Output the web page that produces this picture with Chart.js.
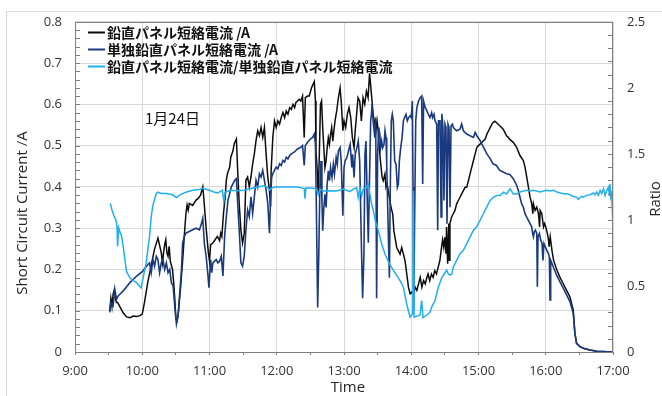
<!DOCTYPE html>
<html>
<head>
<meta charset="utf-8">
<script src="https://cdn.jsdelivr.net/npm/chart.js@4"></script>
<style>
  html, body { margin: 0; padding: 0; background: #fff; }
  canvas { display: block; }
</style>
</head>
<body>
<canvas id="sc_chart"></canvas>
<script>
// tick labels
const hourLabels = ['9:00', '10:00', '11:00', '12:00', '13:00', '14:00', '15:00', '16:00', '17:00'];
const currentTicks = [0, 0.1, 0.2, 0.3, 0.4, 0.5, 0.6, 0.7, 0.8];
const ratioTicks = [0, 0.5, 1, 1.5, 2, 2.5];

// series names
const seriesNames = ['鉛直パネル短絡電流 /A', '単独鉛直パネル短絡電流 /A', '鉛直パネル短絡電流/単独鉛直パネル短絡電流'];
const dateLabel = '1月24日';

// time of day in minutes after midnight
const blackT = [571, 572, 573, 574, 575, 576, 577, 578, 580, 583, 586, 589, 592, 595, 598, 600, 602, 605, 608, 611,
  614, 615, 617, 618, 619, 620, 621, 622, 623, 624, 625, 627, 628, 629, 630, 631, 632, 634, 636, 638,
  639, 640, 641, 642, 645, 648, 650, 652, 654, 655, 657, 659, 660, 661, 663, 665, 667, 669, 670, 671,
  672.5, 674, 675, 676, 678, 679, 681, 682, 684, 685, 686.5, 688, 689.5, 691, 692.5, 694, 695.5, 697, 698.5, 700,
  701.5, 703, 704.5, 706, 707.5, 709, 710.5, 712, 713.5, 714.5, 715, 716.5, 718, 719.5, 721, 722.5, 724, 725.5, 727, 728.5,
  730, 731.5, 733, 734.5, 736, 737, 738.5, 740, 741.5, 743, 744.5, 745.5, 747.5, 749, 751, 753.5, 754.5, 755, 756, 757,
  758, 759, 760, 761, 762, 763, 764, 765, 766, 767, 768, 769, 770, 771, 772, 773.5, 775, 776.5, 777.5, 779,
  780, 781.5, 783, 784.5, 786, 787.5, 789, 790, 791.5, 792.5, 794, 795.5, 797, 798.5, 800, 801.5, 802.8, 804, 805, 806,
  807.5, 808.5, 809.5, 810.5, 811.5, 812.5, 814, 815, 816.5, 817.5, 818.5, 820, 821, 822, 823.5, 824.5, 826, 827, 828.5, 830,
  831.5, 833, 834.5, 836, 837.5, 839, 840.5, 842, 843.5, 845, 846.5, 848, 849.5, 851, 852.5, 854, 855, 856.5, 858, 859.5,
  861, 862.5, 864, 865.5, 867, 868, 869, 870, 871, 871.5, 872.5, 873.5, 874, 874.5, 876, 877.5, 879, 880.5, 882, 883.5,
  885, 886.5, 888, 889.5, 891, 892.5, 894, 895.5, 897, 898.5, 900, 901.5, 903, 904.5, 906, 907.5, 909, 910.5, 912, 913,
  914.5, 916, 917.5, 919, 920.5, 922, 923.5, 925, 926.5, 928, 931, 934, 937, 940, 941.5, 943, 944.5, 946, 947.5, 948.5,
  949, 950.5, 952, 953.5, 954.5, 955, 956.5, 958, 959, 960, 961.5, 962.5, 963, 964, 965.5, 967, 970, 972.5, 975.5, 978.5,
  981.5, 984.5, 986, 987.5, 990.5, 993.5, 999.5, 1005.5, 1011.5, 1019];
const blackV = [0.10, 0.13, 0.11, 0.14, 0.15, 0.13, 0.12, 0.12, 0.11, 0.095, 0.085, 0.083, 0.087, 0.086, 0.088, 0.092, 0.12, 0.17, 0.21, 0.25,
  0.276, 0.264, 0.24, 0.216, 0.24, 0.26, 0.272, 0.24, 0.232, 0.256, 0.22, 0.2, 0.17, 0.13, 0.08, 0.075, 0.09, 0.15, 0.22, 0.3,
  0.336, 0.356, 0.344, 0.36, 0.355, 0.368, 0.372, 0.38, 0.40, 0.37, 0.30, 0.24, 0.22, 0.26, 0.264, 0.272, 0.28, 0.27, 0.288, 0.28,
  0.336, 0.376, 0.416, 0.432, 0.448, 0.472, 0.488, 0.504, 0.516, 0.448, 0.36, 0.296, 0.264, 0.288, 0.416, 0.424, 0.40, 0.424, 0.456, 0.48,
  0.512, 0.536, 0.524, 0.544, 0.52, 0.544, 0.48, 0.424, 0.392, 0.352, 0.44, 0.52, 0.56, 0.544, 0.56, 0.552, 0.568, 0.58, 0.568, 0.584,
  0.576, 0.592, 0.588, 0.6, 0.592, 0.604, 0.608, 0.612, 0.608, 0.62, 0.52, 0.616, 0.62, 0.62, 0.64, 0.655, 0.608, 0.487, 0.447, 0.382,
  0.479, 0.6, 0.608, 0.544, 0.495, 0.447, 0.463, 0.495, 0.519, 0.503, 0.527, 0.544, 0.511, 0.536, 0.56, 0.584, 0.616, 0.64, 0.608, 0.536,
  0.56, 0.544, 0.576, 0.592, 0.568, 0.519, 0.495, 0.536, 0.584, 0.616, 0.608, 0.56, 0.616, 0.6, 0.632, 0.616, 0.675, 0.64, 0.608, 0.576,
  0.552, 0.536, 0.56, 0.536, 0.495, 0.463, 0.423, 0.415, 0.431, 0.399, 0.407, 0.382, 0.366, 0.35, 0.334, 0.294, 0.27, 0.253, 0.245, 0.237,
  0.253, 0.237, 0.221, 0.189, 0.157, 0.141, 0.145, 0.141, 0.157, 0.149, 0.165, 0.181, 0.157, 0.173, 0.165, 0.181, 0.189, 0.173, 0.189, 0.181,
  0.197, 0.189, 0.205, 0.221, 0.253, 0.272, 0.254, 0.278, 0.238, 0.303, 0.214, 0.311, 0.222, 0.311, 0.327, 0.335, 0.343, 0.359, 0.367, 0.375,
  0.383, 0.391, 0.399, 0.399, 0.415, 0.432, 0.448, 0.464, 0.48, 0.496, 0.5, 0.504, 0.508, 0.512, 0.516, 0.528, 0.536, 0.544, 0.552, 0.556,
  0.559, 0.556, 0.552, 0.548, 0.544, 0.54, 0.532, 0.524, 0.52, 0.515, 0.508, 0.496, 0.476, 0.464, 0.448, 0.424, 0.4, 0.375, 0.359, 0.335,
  0.359, 0.343, 0.351, 0.335, 0.303, 0.343, 0.335, 0.303, 0.311, 0.303, 0.287, 0.271, 0.255, 0.279, 0.247, 0.222, 0.198, 0.182, 0.166, 0.15,
  0.134, 0.102, 0.045, 0.021, 0.013, 0.009, 0.005, 0.002, 0.001, 0];

const navyT = [571, 572, 574, 575.5, 577, 578.5, 580, 583, 589, 595, 600.5, 605, 606.5, 608, 609.5, 611, 612.5, 614, 615.5, 617,
  618.5, 620, 621.5, 623, 624.5, 626, 627.5, 629, 630.5, 632, 633.5, 635, 636, 637.5, 639, 642, 645, 648, 651, 652.5,
  654, 655.5, 657, 658.5, 659.5, 661, 662, 663, 664.5, 666, 667.5, 669, 670.5, 672, 673.5, 675, 676.5, 678, 679.5, 681,
  682.5, 684, 685, 686.5, 688, 689.5, 691, 692.5, 694, 695.5, 697, 698.5, 700, 701.5, 703, 704.5, 706, 707.5, 709, 710.5,
  712, 713.5, 714.5, 715.5, 716.5, 718, 719.5, 721, 722.5, 724, 725.5, 727, 728.5, 730, 731.5, 733, 735.5, 738.5, 741.5, 743,
  744.5, 745.5, 747.5, 750, 752, 753.5, 754.5, 755.3, 756.5, 757.5, 758.5, 759.5, 760.3, 761, 762, 763, 764, 765, 766, 767,
  768, 769.3, 770.5, 771.5, 773, 774, 775, 776.5, 777.5, 779, 780, 781, 782.5, 784, 785.5, 787, 787.7, 789, 790, 791.5,
  792.7, 794, 795.7, 796.6, 797.8, 798.7, 799.6, 800.8, 801.7, 802.6, 803.8, 804.5, 805, 806, 807.5, 808.3, 809.1, 810, 811, 812,
  812.7, 813.6, 814.5, 815.7, 816.6, 817.5, 818.1, 819, 820, 820.5, 821.3, 822.2, 823.1, 824, 825.2, 826.4, 827.6, 828.5, 829.4, 830.6,
  831.8, 833, 834, 835.3, 836.5, 837.7, 839, 840, 841, 841.6, 842.2, 843, 844, 845, 846.5, 848, 849.3, 850.2, 851, 852.5,
  854, 855.2, 856.7, 858.2, 859, 860.3, 861.2, 862.7, 863.6, 864.3, 865.7, 866.6, 867.3, 868.3, 869.2, 870.1, 871, 871.9, 872.8, 873.7,
  874.6, 875.5, 876.7, 877.6, 880.5, 883.5, 885, 886.5, 889.5, 892.5, 895.5, 897, 898.5, 901.5, 904.5, 907.5, 910.5, 913, 916, 919,
  922, 925, 928, 931, 934, 935.5, 937, 938.5, 940, 941.5, 943, 944.5, 946, 947.5, 948.3, 949, 949.8, 950.7, 952, 952.5,
  953.1, 954.3, 955.5, 956.7, 957.5, 958.4, 959.6, 960.8, 962.3, 963.2, 963.8, 964.4, 965.6, 966.8, 969.7, 972.7, 975.7, 978.7, 981.6, 984.6,
  986, 987.5, 990.5, 993.5, 999.5, 1005.5, 1019];
const navyV = [0.096, 0.12, 0.112, 0.152, 0.128, 0.136, 0.14, 0.148, 0.168, 0.184, 0.196, 0.212, 0.216, 0.192, 0.224, 0.208, 0.232, 0.224, 0.192, 0.216,
  0.224, 0.2, 0.216, 0.192, 0.2, 0.168, 0.16, 0.112, 0.068, 0.088, 0.144, 0.2, 0.264, 0.28, 0.288, 0.292, 0.296, 0.3, 0.296, 0.308,
  0.324, 0.26, 0.232, 0.19, 0.156, 0.224, 0.192, 0.216, 0.22, 0.224, 0.216, 0.22, 0.232, 0.184, 0.28, 0.328, 0.368, 0.384, 0.4, 0.408,
  0.416, 0.42, 0.368, 0.296, 0.216, 0.208, 0.232, 0.296, 0.344, 0.328, 0.376, 0.336, 0.376, 0.416, 0.4, 0.432, 0.424, 0.44, 0.416, 0.392,
  0.36, 0.288, 0.376, 0.424, 0.432, 0.44, 0.448, 0.444, 0.456, 0.452, 0.464, 0.46, 0.472, 0.468, 0.476, 0.48, 0.484, 0.492, 0.496, 0.5,
  0.452, 0.5, 0.508, 0.516, 0.52, 0.528, 0.504, 0.36, 0.108, 0.237, 0.399, 0.463, 0.366, 0.294, 0.35, 0.382, 0.35, 0.407, 0.439, 0.415,
  0.447, 0.423, 0.455, 0.431, 0.471, 0.455, 0.487, 0.495, 0.463, 0.33, 0.447, 0.463, 0.471, 0.487, 0.503, 0.447, 0.479, 0.423, 0.479, 0.495,
  0.511, 0.463, 0.237, 0.13, 0.237, 0.479, 0.511, 0.358, 0.265, 0.399, 0.56, 0.576, 0.6, 0.56, 0.519, 0.568, 0.13, 0.479, 0.544, 0.527,
  0.495, 0.511, 0.495, 0.503, 0.536, 0.519, 0.455, 0.35, 0.237, 0.18, 0.399, 0.56, 0.576, 0.56, 0.463, 0.455, 0.399, 0.407, 0.463, 0.495,
  0.519, 0.56, 0.568, 0.576, 0.56, 0.568, 0.572, 0.568, 0.608, 0.399, 0.1, 0.318, 0.56, 0.592, 0.608, 0.616, 0.62, 0.407, 0.608, 0.592,
  0.584, 0.576, 0.568, 0.58, 0.568, 0.576, 0.56, 0.552, 0.295, 0.56, 0.56, 0.327, 0.577, 0.544, 0.367, 0.552, 0.544, 0.311, 0.552, 0.544,
  0.351, 0.548, 0.552, 0.544, 0.536, 0.54, 0.552, 0.536, 0.528, 0.524, 0.52, 0.532, 0.524, 0.512, 0.496, 0.48, 0.468, 0.456, 0.452, 0.44,
  0.436, 0.432, 0.43, 0.42, 0.404, 0.392, 0.375, 0.359, 0.351, 0.335, 0.327, 0.319, 0.311, 0.303, 0.287, 0.279, 0.291, 0.295, 0.287, 0.158,
  0.279, 0.287, 0.271, 0.263, 0.222, 0.263, 0.255, 0.247, 0.239, 0.23, 0.126, 0.222, 0.214, 0.206, 0.186, 0.17, 0.154, 0.138, 0.122, 0.093,
  0.045, 0.021, 0.013, 0.009, 0.005, 0.002, 0];

const ratioT = [571.5, 573, 575, 576.5, 577.5, 578, 579, 580.5, 581.5, 583, 584.5, 586, 589, 592, 595, 597.5, 599, 600.5, 603.5, 606.5,
  608, 609.5, 612.5, 614, 617, 621.5, 627, 630.5, 633.5, 639, 645, 651, 654, 660, 664.5, 667.5, 671.5, 672.8, 674, 679.5,
  685, 691, 697, 703, 709, 712, 713.5, 715, 718, 727, 738.5, 744.5, 745.2, 746.1, 752.6, 755.6, 757.1, 758.5, 761.5, 767.5,
  773.4, 779.4, 785.3, 788.3, 791.3, 792.7, 794.2, 795.7, 797.2, 800.2, 801.7, 803.2, 804.6, 806.2, 808, 810.6, 813.6, 816.6, 821, 824,
  827, 830, 833, 835.9, 838.9, 841.3, 841.9, 842.5, 844.8, 847.8, 849.3, 850.5, 853.8, 856.7, 858.2, 861.2, 864.2, 867.1, 870.1, 871.6,
  873.1, 874.6, 876.1, 877.6, 880.5, 883.5, 886.5, 889.5, 892.4, 895.4, 898.4, 901.4, 904.3, 907.3, 910.3, 913.2, 916.2, 919.2, 922.2, 925.1,
  928.1, 931.1, 934.1, 937, 940, 943, 946, 949, 952, 955, 958, 961, 964, 967, 970, 973, 976, 979, 981.5, 984.5,
  987.5, 989, 990.5, 992, 993.5, 996.5, 999.5, 1002.5, 1004, 1005.5, 1007, 1008.5, 1010, 1011.5, 1013, 1014.5, 1016, 1016.7, 1017.3, 1018,
  1018.8, 1019.7];
const ratioV = [1.125, 1.075, 1.025, 1.0, 0.95, 0.8, 0.94, 0.9, 0.88, 0.8, 0.7, 0.61, 0.56, 0.54, 0.525, 0.5, 0.485, 0.55, 0.675, 0.875,
  1.025, 1.11, 1.2, 1.21, 1.2, 1.2, 1.19, 1.17, 1.19, 1.21, 1.225, 1.23, 1.24, 1.225, 1.21, 1.205, 1.225, 1.14, 1.21, 1.225,
  1.22, 1.225, 1.238, 1.25, 1.258, 1.244, 1.225, 1.238, 1.25, 1.25, 1.25, 1.238, 1.16, 1.244, 1.24, 1.233, 1.19, 1.233, 1.219, 1.22,
  1.219, 1.233, 1.214, 1.233, 1.245, 1.169, 1.245, 1.18, 1.233, 1.245, 1.27, 1.19, 1.12, 1.07, 0.99, 0.92, 0.82, 0.74, 0.66, 0.62,
  0.58, 0.54, 0.49, 0.365, 0.265, 0.29, 1.22, 0.265, 0.27, 0.28, 0.39, 0.26, 0.28, 0.3, 0.34, 0.39, 0.49, 0.56, 0.6, 0.62,
  0.59, 0.582, 0.59, 0.645, 0.694, 0.744, 0.77, 0.82, 0.87, 0.92, 0.95, 0.997, 1.047, 1.097, 1.147, 1.17, 1.185, 1.185, 1.21, 1.197,
  1.235, 1.197, 1.197, 1.211, 1.219, 1.224, 1.219, 1.224, 1.219, 1.211, 1.219, 1.224, 1.219, 1.224, 1.211, 1.204, 1.199, 1.199, 1.191, 1.178,
  1.173, 1.156, 1.168, 1.178, 1.173, 1.186, 1.191, 1.204, 1.191, 1.211, 1.186, 1.224, 1.199, 1.236, 1.186, 1.224, 1.249, 1.186, 1.274, 1.173,
  1.199, 1.0];

const colors = ['#0d0d0d', '#1b3a7e', '#22aff0'];

function toPoints(ts, vs) {
  return ts.map((t, i) => ({ x: t, y: vs[i] }));
}

function hourToMin(label) {
  const p = label.split(':');
  return Number(p[0]) * 60 + Number(p[1]);
}

// half hour ticks on the time axis
const firstMin = hourToMin(hourLabels[0]);
const lastMin = hourToMin(hourLabels[hourLabels.length - 1]);
const timeTicks = [];
for (let m = firstMin; m <= lastMin; m += 30) timeTicks.push(m);

const labelFont = { family: 'Open Sans', size: 13 };

// frame, inward ticks, axis titles, legend and date label
const decor = {
  id: 'decor',
  beforeDraw(chart) {
    const c = chart.ctx;
    c.save();
    c.strokeStyle = '#d9d9d9';
    c.lineWidth = 1;
    c.strokeRect(6.5, 11.5, chart.width + 20, chart.height + 20);
    c.restore();
  },
  afterDatasetsDraw(chart) {
    const c = chart.ctx;
    const a = chart.chartArea;
    const ys = chart.scales.y;
    const y2 = chart.scales.y2;
    c.save();
    c.strokeStyle = '#7f7f7f';
    c.lineWidth = 1;
    c.strokeRect(Math.round(a.left) + 0.5, Math.round(a.top) + 0.5,
      Math.round(a.right - a.left) - 1, Math.round(a.bottom - a.top));
    c.beginPath();
    for (let v = 0; v <= 0.8001; v += 0.02) {
      const py = Math.round(ys.getPixelForValue(v)) + 0.5;
      c.moveTo(a.left, py);
      c.lineTo(a.left + 5, py);
    }
    for (let v = 0; v <= 2.5001; v += 0.1) {
      const py = Math.round(y2.getPixelForValue(v)) + 0.5;
      c.moveTo(a.right - 5, py);
      c.lineTo(a.right, py);
    }
    c.stroke();

    // axis titles
    c.fillStyle = '#262626';
    c.font = '15px "Open Sans"';
    c.textAlign = 'center';
    c.textBaseline = 'middle';
    c.save();
    c.translate(23, 213);
    c.rotate(-Math.PI / 2);
    c.fillText('Short Circuit Current /A', 0, 0);
    c.restore();
    c.save();
    c.translate(656, 199);
    c.rotate(-Math.PI / 2);
    c.fillText('Ratio', 0, 0);
    c.restore();
    c.fillText('Time', 348, 388);

    // legend
    const rows = [32.5, 49.5, 66.5];
    c.textAlign = 'left';
    c.font = 'bold 14px "Noto Sans CJK JP"';
    seriesNames.forEach((name, i) => {
      c.strokeStyle = colors[i];
      c.lineWidth = 2;
      c.beginPath();
      c.moveTo(88, rows[i]);
      c.lineTo(105, rows[i]);
      c.stroke();
      c.fillStyle = '#111';
      c.fillText(name, 107, rows[i]);
    });

    c.font = '15px "Noto Sans CJK JP"';
    c.fillStyle = '#111';
    c.fillText(dateLabel, 145, 118);
    c.restore();
  }
};

const canvas = document.getElementById('sc_chart');
canvas.width = 662;
canvas.height = 396;
const ctx = canvas.getContext('2d');

const chart = new Chart(ctx, {
  type: 'line',
  data: {
    datasets: [{
      label: seriesNames[0],
      data: toPoints(blackT, blackV),
      borderColor: colors[0],
      borderWidth: 1.5,
      yAxisID: 'y',
      order: 3
    }, {
      label: seriesNames[1],
      data: toPoints(navyT, navyV),
      borderColor: colors[1],
      borderWidth: 1.6,
      yAxisID: 'y',
      order: 2
    }, {
      label: seriesNames[2],
      data: toPoints(ratioT, ratioV),
      borderColor: colors[2],
      borderWidth: 1.5,
      yAxisID: 'y2',
      order: 1
    }]
  },
  options: {
    responsive: false,
    animation: false,
    layout: { padding: { top: 21, left: 0, right: 0, bottom: 0 } },
    elements: { point: { radius: 0 }, line: { tension: 0 } },
    plugins: {
      legend: { display: false },
      tooltip: { enabled: false }
    },
    scales: {
      x: {
        type: 'linear',
        min: firstMin,
        max: lastMin,
        afterFit: s => { s.height = 44; },
        afterBuildTicks: s => { s.ticks = timeTicks.map(v => ({ value: v })); },
        ticks: {
          autoSkip: false,
          maxRotation: 0,
          padding: 8,
          color: '#333',
          font: labelFont,
          callback: v => {
            const i = hourLabels.findIndex(l => hourToMin(l) === v);
            return i >= 0 ? hourLabels[i] : '';
          }
        },
        grid: {
          color: c => (c.tick && c.tick.value % 60 === 0) ? '#d9d9d9' : 'rgba(0,0,0,0)',
          tickColor: '#7f7f7f',
          tickLength: 3
        },
        border: { display: false }
      },
      y: {
        position: 'left',
        min: 0,
        max: 0.8,
        afterFit: s => { s.width = 75; },
        afterBuildTicks: s => { s.ticks = currentTicks.map(v => ({ value: v })); },
        ticks: { padding: 13, color: '#333', font: labelFont, callback: v => String(v) },
        grid: { color: '#d9d9d9', drawTicks: false },
        border: { display: false }
      },
      y2: {
        position: 'right',
        min: 0,
        max: 2.5,
        afterFit: s => { s.width = 49; },
        afterBuildTicks: s => { s.ticks = ratioTicks.map(v => ({ value: v })); },
        ticks: { padding: 14, color: '#333', font: labelFont, callback: v => String(v) },
        grid: { drawOnChartArea: false, drawTicks: false },
        border: { display: false }
      }
    }
  },
  plugins: [decor]
});
</script>
</body>
</html>
